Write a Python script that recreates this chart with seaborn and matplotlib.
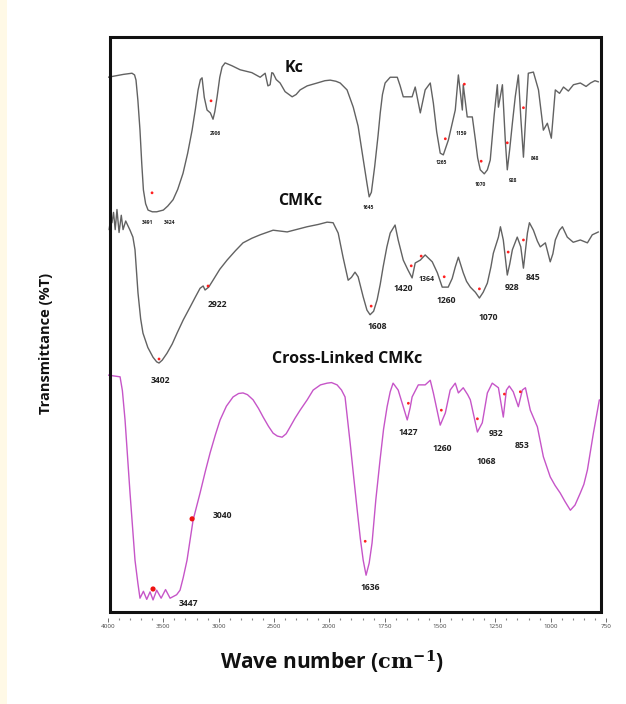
import numpy as np
import pandas as pd
import matplotlib
matplotlib.use("Agg")
import matplotlib.pyplot as plt
from matplotlib.patches import Rectangle
from matplotlib.ticker import FixedLocator
import seaborn as sns

# ---------------- spectra (wavenumber, cm-1 / transmittance, offset a.u.) ----------------
kc_wn = [4000, 3860, 3783, 3760, 3747, 3730, 3711, 3695, 3680, 3660, 3638, 3600, 3560,
         3500, 3460, 3412, 3370, 3322, 3280, 3240, 3210, 3186, 3165, 3150, 3130, 3105,
         3075, 3051, 3035, 3014, 2990, 2969, 2942, 2880, 2806, 2700, 2625, 2580, 2555,
         2535, 2520, 2508, 2480, 2445, 2400, 2336, 2300, 2264, 2200, 2110, 2040, 1996,
         1970, 1951, 1920, 1892, 1870, 1850, 1829, 1820, 1810, 1795, 1780, 1770, 1760,
         1748, 1725, 1693, 1680, 1666, 1626, 1612, 1589, 1567, 1544, 1530, 1515, 1499,
         1485, 1462, 1431, 1417, 1399, 1395, 1377, 1354, 1340, 1330, 1318, 1300, 1286,
         1273, 1255, 1241, 1236, 1218, 1205, 1196, 1185, 1173, 1160, 1146, 1135, 1123,
         1110, 1101, 1078, 1055, 1033, 1015, 997, 979, 960, 942, 920, 897, 866, 840,
         820, 800, 784]
kc_t = [93.0, 93.5, 93.7, 93.4, 92.5, 89.0, 83.8, 78.0, 73.4, 71.0, 69.9, 69.6, 69.6,
        69.9, 70.6, 71.7, 73.5, 76.3, 79.8, 83.8, 87.5, 90.8, 92.6, 92.9, 89.5, 87.3,
        86.8, 85.7, 87.0, 89.6, 93.0, 94.8, 95.5, 95.0, 94.3, 93.8, 93.0, 93.7, 91.5,
        91.7, 93.8, 93.7, 92.6, 92.0, 90.5, 89.6, 90.0, 90.8, 91.5, 92.0, 92.4, 92.5,
        92.3, 92.0, 90.8, 87.8, 84.5, 79.5, 74.3, 72.2, 73.0, 77.5, 82.8, 86.8, 90.0,
        92.0, 93.0, 93.0, 91.5, 89.6, 89.6, 91.3, 86.8, 90.8, 92.0, 88.5, 83.5, 79.8,
        79.5, 82.1, 87.3, 93.4, 87.3, 91.7, 86.1, 86.1, 82.1, 79.0, 76.9, 76.2, 76.9,
        78.6, 86.5, 91.7, 87.8, 91.7, 82.0, 76.9, 80.5, 85.0, 89.6, 93.4, 86.0, 79.1,
        88.0, 93.7, 93.9, 90.8, 83.8, 85.0, 82.4, 90.8, 90.2, 91.3, 90.6, 91.7, 92.0,
        91.4, 92.0, 92.4, 92.2]

cmkc_wn = [3990, 3975, 3964, 3950, 3935, 3919, 3900, 3880, 3864, 3840, 3801, 3775, 3756,
           3729, 3705, 3684, 3640, 3593, 3560, 3539, 3510, 3467, 3420, 3376, 3320, 3259,
           3210, 3168, 3140, 3123, 3090, 3051, 2990, 2924, 2850, 2780, 2700, 2625, 2508,
           2381, 2201, 2100, 2020, 1983, 1960, 1938, 1915, 1900, 1884, 1870, 1847, 1830,
           1816, 1800, 1784, 1770, 1757, 1740, 1725, 1703, 1689, 1666, 1645, 1626, 1612,
           1589, 1567, 1535, 1512, 1490, 1463, 1445, 1431, 1417, 1395, 1380, 1363, 1340,
           1322, 1305, 1286, 1270, 1259, 1236, 1227, 1214, 1196, 1185, 1173, 1151, 1135,
           1123, 1105, 1096, 1078, 1060, 1047, 1024, 1002, 990, 979, 960, 947, 925, 898,
           866, 834, 812, 784]
cmkc_t = [66.5, 68.5, 67.7, 69.5, 66.5, 70.0, 66.0, 69.0, 66.5, 68.0, 66.4, 65.2, 63.0,
          55.5, 51.0, 48.5, 46.0, 44.3, 43.5, 43.3, 43.8, 45.0, 46.6, 48.5, 50.8, 53.0,
          54.8, 56.3, 56.7, 56.0, 56.5, 57.7, 59.6, 61.2, 62.8, 64.2, 65.0, 65.6, 66.4,
          66.1, 67.0, 67.4, 67.8, 67.7, 65.9, 61.7, 57.7, 58.2, 59.1, 58.3, 54.8, 52.5,
          51.7, 52.3, 54.3, 57.0, 60.0, 63.5, 65.9, 67.3, 64.7, 61.2, 59.5, 58.1, 60.7,
          61.2, 62.1, 60.9, 59.0, 56.5, 56.5, 58.0, 60.0, 61.7, 59.0, 57.5, 56.5, 55.6,
          54.6, 55.6, 57.2, 60.0, 62.4, 65.2, 67.0, 64.7, 58.6, 60.5, 63.0, 65.2, 63.5,
          59.8, 65.9, 67.7, 66.4, 64.5, 63.5, 64.2, 60.9, 62.3, 64.7, 66.4, 67.0, 65.2,
          64.3, 64.7, 64.2, 65.6, 66.1]

xl_wn = [4000, 3891, 3870, 3846, 3801, 3756, 3730, 3711, 3680, 3650, 3620, 3593, 3560,
         3520, 3480, 3439, 3380, 3349, 3320, 3286, 3231, 3168, 3120, 3077, 3030, 2987,
         2930, 2870, 2820, 2780, 2740, 2689, 2640, 2598, 2550, 2508, 2470, 2427, 2390,
         2354, 2310, 2264, 2200, 2146, 2080, 2020, 1990, 1965, 1945, 1929, 1906, 1890,
         1874, 1860, 1847, 1834, 1820, 1807, 1790, 1771, 1755, 1739, 1725, 1712, 1689,
         1666, 1648, 1635, 1626, 1598, 1567, 1544, 1530, 1499, 1476, 1454, 1431, 1417,
         1395, 1375, 1363, 1331, 1309, 1286, 1264, 1236, 1214, 1200, 1187, 1169, 1146,
         1128, 1114, 1092, 1060, 1033, 1002, 980, 957, 935, 911, 890, 866, 850, 834,
         807, 780]
xl_t = [41.2, 40.9, 38.5, 33.4, 20.7, 9.0, 5.0, 2.4, 3.6, 2.2, 3.5, 2.1, 3.8,
        2.4, 3.9, 2.4, 3.0, 3.8, 6.0, 9.0, 16.0, 20.7, 24.5, 27.7, 30.8, 33.4,
        35.8, 37.4, 38.0, 38.1, 37.8, 36.9, 35.4, 33.9, 32.3, 31.1, 30.6, 30.4, 31.0,
        32.2, 33.7, 35.1, 36.9, 38.6, 39.5, 39.8, 39.9, 39.5, 38.6, 37.4, 29.4, 23.5,
        17.7, 12.8, 9.0, 6.4, 8.5, 12.0, 19.5, 26.4, 31.8, 35.7, 38.3, 39.8, 38.6,
        35.7, 33.4, 35.5, 37.4, 39.5, 39.5, 40.3, 38.1, 32.5, 34.6, 38.6, 39.8, 38.1,
        39.0, 37.8, 36.9, 31.3, 32.9, 38.1, 39.8, 39.0, 33.9, 38.6, 39.3, 38.3, 35.7,
        38.6, 39.0, 35.1, 32.2, 27.0, 23.5, 22.0, 20.7, 19.2, 17.7, 18.6, 20.7, 22.2,
        24.7, 31.1, 36.9]

# ---------------- marked peaks ----------------
kc_dot_wn = [3602, 3069, 1476, 1390, 1314, 1196, 1123]
kc_dot_t = [72.9, 88.9, 82.3, 91.8, 78.4, 81.6, 87.7]
cmkc_dot_wn = [3539, 3096, 1811, 1630, 1585, 1481, 1322, 1192, 1123]
cmkc_dot_t = [44.0, 56.7, 53.2, 60.2, 61.9, 58.3, 56.2, 62.6, 64.7]
xl_dot_wn = [1838, 1643, 1494, 1331, 1209, 1137]
xl_dot_t = [12.3, 36.3, 35.1, 33.6, 37.9, 38.3]
xl_bigdot_wn = [3593, 3240]
xl_bigdot_t = [4.0, 16.2]

kc_labels = ["3491", "3424", "2906", "1645", "1265", "1159", "1070", "928", "848"]
kc_lab_wn = [3647, 3439, 3033, 1825, 1495, 1404, 1318, 1169, 1069]
kc_lab_t = [67.7, 67.7, 83.3, 70.3, 78.1, 83.3, 74.3, 75.1, 78.8]

cmkc_labels = ["3402", "2922", "1608", "1420", "1364", "1260", "1070", "928", "845"]
cmkc_lab_wn = [3530, 3014, 1784, 1666, 1562, 1472, 1282, 1173, 1078]
cmkc_lab_t = [40.2, 53.4, 49.6, 56.3, 57.9, 54.1, 51.3, 56.5, 58.1]

xl_labels = ["3040", "3447", "1636", "1427", "1260", "1068", "932", "853"]
xl_lab_wn = [2969, 3277, 1816, 1643, 1490, 1291, 1245, 1128]
xl_lab_t = [16.7, 1.4, 4.2, 31.3, 28.5, 26.1, 31.1, 29.0]

titles = ["Kc", "CMKc", "Cross-Linked CMKc"]
title_wn = [2320, 2264, 1920]
title_t = [94.6, 71.5, 44.0]

major_ticks = [4000, 3500, 3000, 2500, 2000, 1750, 1500, 1250, 1000, 750]

# ---------------- figure ----------------
sns.set_theme(style="white")
plt.rcParams["font.family"] = ["Open Sans", "DejaVu Sans"]
plt.rcParams["mathtext.fontset"] = "dejavuserif"

W, H = 626, 704
fig = plt.figure(figsize=(W / 100, H / 100), dpi=100)
fig.patch.set_facecolor("white")
fig.patches.append(Rectangle((0, 0), 7 / W, 1, transform=fig.transFigure,
                             facecolor="#fff9e6", edgecolor="none", zorder=0))

ax_l, ax_r, ax_t, ax_b = 108, 606, 37, 612
ax = fig.add_axes([ax_l / W, 1 - ax_b / H, (ax_r - ax_l) / W, (ax_b - ax_t) / H])
ax.set_facecolor("none")


# instrument-style axis: 500 cm-1 per division above 2000, 250 cm-1 below
def fwd(w):
    w = np.asarray(w, dtype=float)
    return np.where(w >= 2000, 5 + (w - 2000) / 500.0, (w - 750) / 250.0)


def inv(u):
    u = np.asarray(u, dtype=float)
    return np.where(u >= 5, 2000 + (u - 5) * 500.0, 750 + u * 250.0)


ax.set_xscale("function", functions=(fwd, inv))

grey = "#626262"
magenta = "#c655c8"
for wn, t, col in [(kc_wn, kc_t, grey), (cmkc_wn, cmkc_t, grey), (xl_wn, xl_t, magenta)]:
    df = pd.DataFrame({"wn": wn, "T": t})
    sns.lineplot(data=df, x="wn", y="T", ax=ax, color=col, lw=1.0,
                 estimator=None, sort=False, solid_joinstyle="round")

dots = pd.DataFrame({"wn": kc_dot_wn + cmkc_dot_wn + xl_dot_wn,
                     "T": kc_dot_t + cmkc_dot_t + xl_dot_t})
sns.scatterplot(data=dots, x="wn", y="T", ax=ax, color="#ff2020", s=4,
                edgecolor="none", zorder=4)
big = pd.DataFrame({"wn": xl_bigdot_wn, "T": xl_bigdot_t})
sns.scatterplot(data=big, x="wn", y="T", ax=ax, color="#ee1111", s=14,
                edgecolor="none", zorder=4)

for labs, xs, ys, fs in [(kc_labels, kc_lab_wn, kc_lab_t, 3.6),
                         (cmkc_labels, cmkc_lab_wn, cmkc_lab_t, 6.2),
                         (xl_labels, xl_lab_wn, xl_lab_t, 6.2)]:
    for s, x, y in zip(labs, xs, ys):
        size = 5.0 if s == "1364" else fs
        ax.text(x, y, s, ha="center", va="center", fontsize=size,
                fontweight="bold", color="#222222")

for s, x, y in zip(titles, title_wn, title_t):
    ax.text(x, y, s, ha="center", va="center", fontsize=11.5,
            fontweight="bold", color="#111111")

ax.set_xlim(4000, 750)
ax.set_ylim(0, 100)
ax.set_xlabel("")
ax.set_ylabel("")
ax.set_yticks([])

for sp in ["top", "right", "left"]:
    ax.spines[sp].set_visible(False)
ax.spines["bottom"].set_visible(False)
ax.spines["bottom"].set_position(("outward", 4))

minor = [w for w in range(3900, 2000, -100) if w % 500] + \
        [w for w in range(1950, 750, -50) if w % 250]
ax.xaxis.set_major_locator(FixedLocator(major_ticks))
ax.xaxis.set_minor_locator(FixedLocator(minor))
ax.set_xticklabels([str(v) for v in major_ticks])
ax.tick_params(axis="x", which="major", bottom=True, direction="out", length=3,
               width=0.6, color="#555555", labelsize=4.5, labelcolor="#444444", pad=1.5)
ax.tick_params(axis="x", which="minor", bottom=True, direction="out", length=1.2,
               width=0.8, color="#888888")

# heavy frame around the plotting area
fig.patches.append(Rectangle((110 / W, 1 - 612 / H), (601 - 110) / W, (612 - 37) / H,
                             transform=fig.transFigure, fill=False,
                             edgecolor="#111111", lw=2.2, zorder=5))

fig.text(46 / W, 1 - 343 / H, "Transmittance (%T)", rotation=90, ha="center",
         va="center", fontsize=10.5, fontweight="bold", color="#111111")
fig.text(332 / W, 1 - 662 / H, "Wave number ($\\mathbf{cm^{-1}}$)", ha="center",
         va="center", fontsize=15, fontweight="bold", color="#111111")

fig.savefig("out.png", dpi=100)
